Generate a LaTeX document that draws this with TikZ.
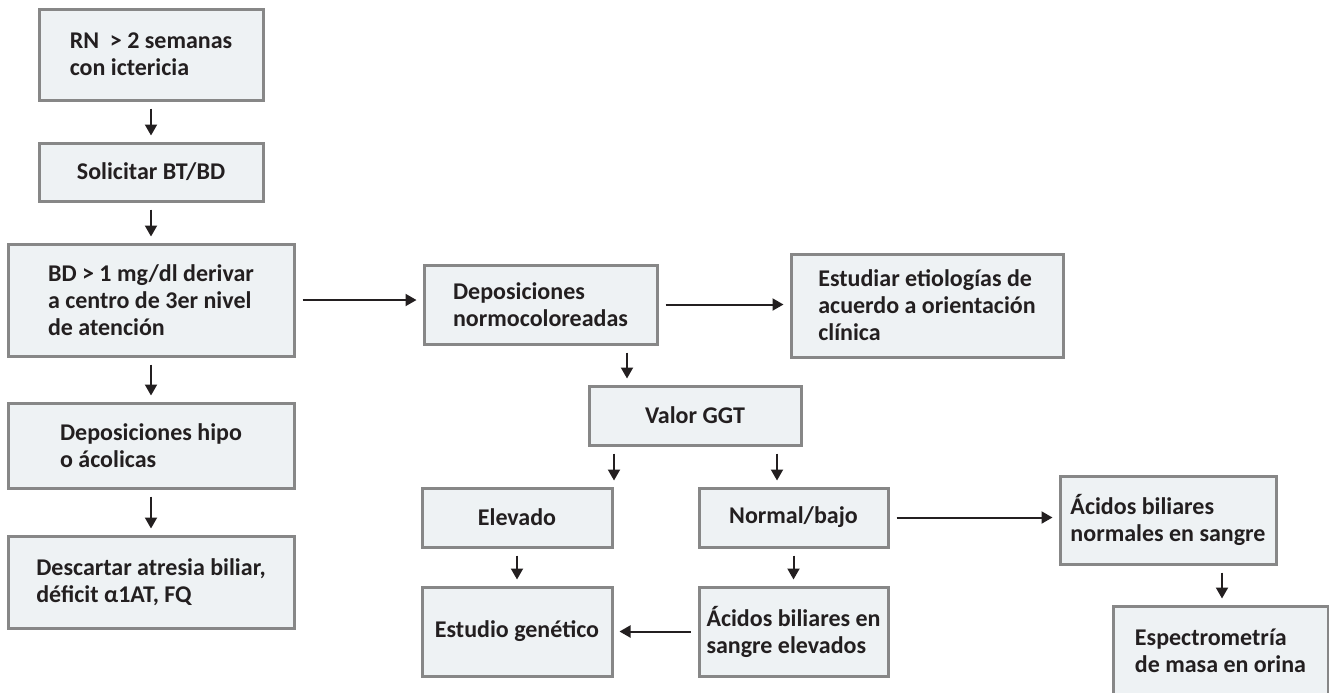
\documentclass[tikz,border=0pt]{standalone}
\usepackage{fontspec}
\setmainfont{Carlito}
\usetikzlibrary{arrows.meta}
\definecolor{boxfill}{HTML}{EEF2F4}
\definecolor{boxline}{HTML}{878787}
\definecolor{ink}{HTML}{231F20}
\tikzset{
  box/.style={draw=boxline, line width=1.5pt, fill=boxfill, text=ink,
    font=\fontsize{12}{13.5}\selectfont\bfseries, align=left, inner sep=0pt},
  arr/.style={draw=ink, line width=1pt, -{Triangle[length=5.5pt,width=6pt]},
    shorten <=3.5pt, shorten >=3pt}
}
\begin{document}
\begin{tikzpicture}[x=0.5pt, y=-0.5pt]
    \useasboundingbox (0,0) rectangle (1329,692);

    % LEFT: main column
    \node[box, minimum width=112pt, minimum height=45.5pt] (rn) at (151,54.5) {RN \ > 2 semanas\\con ictericia};
    \node[box, minimum width=112pt, minimum height=29pt] (sol) at (151,172) {Solicitar BT/BD};
    \node[box, minimum width=143pt, minimum height=56pt] (bd) at (151,300) {BD > 1 mg/dl derivar\\a centro de 3er nivel\\de atención};
    \node[box, minimum width=143pt, minimum height=42.5pt] (hipo) at (151,445.5) {Deposiciones hipo\\o ácolicas};
    \node[box, minimum width=143pt, minimum height=46pt] (desc) at (151,582) {Descartar atresia biliar,\\déficit α1AT, FQ};

    % MIDDLE: normal stools branch
    \node[box, minimum width=116.5pt, minimum height=39.5pt] (dn) at (540.5,304.5) {Deposiciones\\normocoloreadas};
    \node[box, minimum width=136pt, minimum height=51.5pt] (est) at (927,305.5) {Estudiar etiologías de\\acuerdo a orientación\\clínica};
    \node[box, minimum width=106pt, minimum height=29.5pt] (ggt) at (695,415.5) {Valor GGT};
    \node[box, minimum width=95pt, minimum height=29.5pt] (elev) at (517,517.5) {Elevado};
    \node[box, minimum width=94.5pt, minimum height=29.5pt] (norm) at (793.5,517.5) {Normal/bajo};
    \node[box, minimum width=95pt, minimum height=44.5pt] (gen) at (517,631.5) {Estudio genético};
    \node[box, minimum width=94.5pt, minimum height=44.5pt] (ael) at (793.5,631.5) {Ácidos biliares en\\sangre elevados};

    % RIGHT: normal bile acids
    \node[box, minimum width=108pt, minimum height=44pt] (anor) at (1168,520) {Ácidos biliares\\normales en sangre};
    \node[box, minimum width=107.5pt, minimum height=45pt] (esp) at (1220.5,651) {Espectrometría\\de masa en orina};

    % Arrow columns off the box centres
    \coordinate (c1) at (627,0);
    \coordinate (c2) at (614,0);
    \coordinate (c3) at (777,0);
    \coordinate (c4) at (1222,0);

    % Connectors
    \draw[arr] (rn) -- (sol);
    \draw[arr] (sol) -- (bd);
    \draw[arr] (bd) -- (hipo);
    \draw[arr] (hipo) -- (desc);
    \draw[arr] (bd.east) -- (bd.east -| dn.west);
    \draw[arr] (dn.east) -- (dn.east -| est.west);
    \draw[arr] (dn.south -| c1) -- (ggt.north -| c1);
    \draw[arr] (ggt.south -| c2) -- (elev.north -| c2);
    \draw[arr] (ggt.south -| c3) -- (norm.north -| c3);
    \draw[arr] (elev) -- (gen);
    \draw[arr] (norm) -- (ael);
    \draw[arr] (ael) -- (gen);
    \draw[arr] (norm.east) -- (norm.east -| anor.west);
    \draw[arr] (anor.south -| c4) -- (esp.north -| c4);
\end{tikzpicture}
\end{document}
